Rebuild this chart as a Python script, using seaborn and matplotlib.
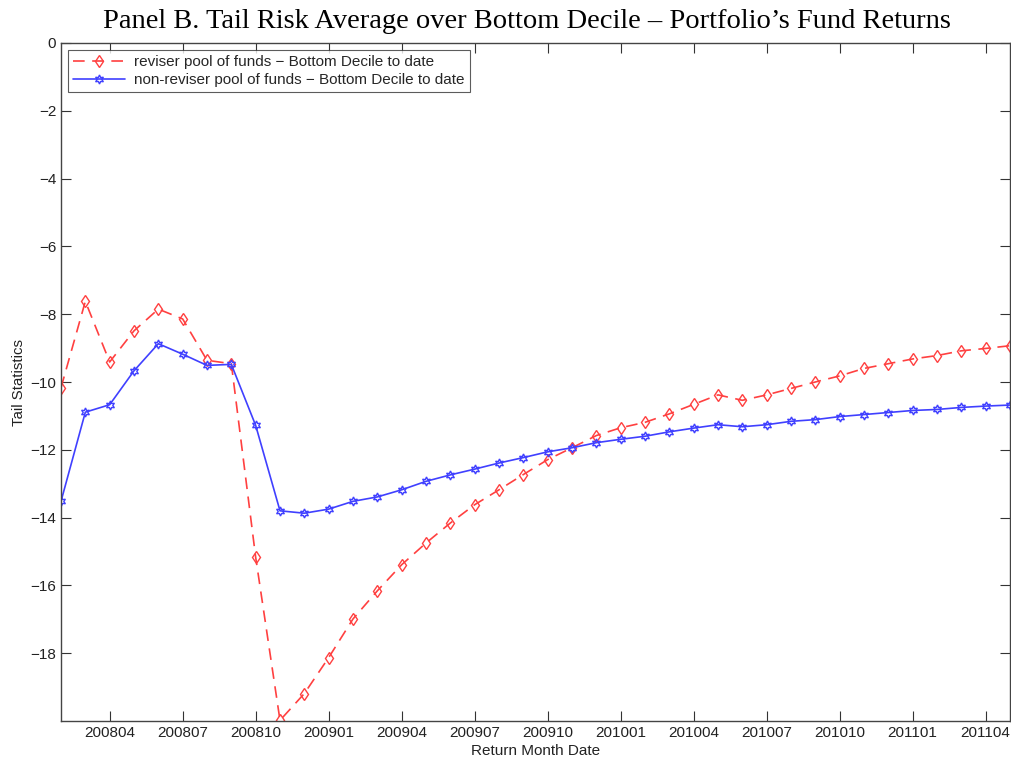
import matplotlib
matplotlib.use("Agg")
import matplotlib.pyplot as plt
import seaborn as sns
import pandas as pd

# monthly return dates, 200802 .. 201105
months = pd.period_range("2008-02", "2011-05", freq="M").strftime("%Y%m").tolist()

reviser = [-10.17, -7.62, -9.41, -8.49, -7.85, -8.14, -9.36, -9.46, -15.17, -19.98,
           -19.19, -18.13, -16.99, -16.16, -15.39, -14.75, -14.16, -13.62, -13.18, -12.73,
           -12.29, -11.94, -11.58, -11.35, -11.19, -10.94, -10.66, -10.38, -10.54, -10.38,
           -10.19, -10.00, -9.82, -9.60, -9.46, -9.32, -9.22, -9.08, -9.01, -8.93]

non_reviser = [-13.52, -10.89, -10.67, -9.67, -8.87, -9.18, -9.51, -9.48, -11.28, -13.80,
               -13.87, -13.75, -13.52, -13.39, -13.18, -12.93, -12.74, -12.57, -12.39, -12.23,
               -12.06, -11.94, -11.79, -11.69, -11.60, -11.47, -11.36, -11.26, -11.32, -11.26,
               -11.16, -11.11, -11.02, -10.96, -10.90, -10.84, -10.81, -10.75, -10.71, -10.68]

labels = ["reviser pool of funds \u2212 Bottom Decile to date",
          "non-reviser pool of funds \u2212 Bottom Decile to date"]

sns.set_style("white")
plt.rcParams["font.family"] = ["Liberation Sans", "DejaVu Sans"]

idx = list(range(len(months)))
fig = plt.figure(figsize=(10.12, 7.6), dpi=100)
ax = fig.add_axes([61 / 1012, 1 - 721 / 760, (1010 - 61) / 1012, (721 - 43) / 760])

sns.lineplot(x=idx, y=reviser, ax=ax, color="#ff4040", linestyle=(0, (7, 4.5)), linewidth=1.2,
             marker="d", markersize=6.5, markerfacecolor="none", markeredgecolor="#ff4040",
             markeredgewidth=1.0, label=labels[0])
sns.lineplot(x=idx, y=non_reviser, ax=ax, color="#4040ff", linewidth=1.2,
             marker=(6, 1, 0), markersize=6.5, markerfacecolor="none", markeredgecolor="#4040ff",
             markeredgewidth=1.0, label=labels[1])

ax.set_xlim(0, len(months) - 1)
ax.set_ylim(-20, 0)
tick_pos = idx[2::3]
ax.set_xticks(tick_pos)
ax.set_xticklabels([months[i] for i in tick_pos])
ax.set_yticks([0, -2, -4, -6, -8, -10, -12, -14, -16, -18])
ax.set_yticklabels(["0", "\u22122", "\u22124", "\u22126", "\u22128", "\u221210",
                    "\u221212", "\u221214", "\u221216", "\u221218"])

ax.tick_params(direction="in", length=7, width=0.8, color="#333333", labelsize=11,
               labelcolor="#222222", top=True, right=True, bottom=True, left=True)
for s in ax.spines.values():
    s.set_color("#444444")
    s.set_linewidth(1.0)

ax.set_xlabel("Return Month Date", fontsize=11, color="#222222", labelpad=3)
ax.set_ylabel("Tail Statistics", fontsize=10.8, color="#222222", labelpad=3)

leg = ax.legend(loc="upper left", fontsize=11, frameon=True, fancybox=False,
                handlelength=3.4, borderpad=0.35, labelspacing=0.25, handletextpad=0.6,
                bbox_to_anchor=(0.007, 0.99), borderaxespad=0)
leg.get_frame().set_edgecolor("#333333")
leg.get_frame().set_linewidth(0.8)

fig.text(527 / 1012, 1 - 21 / 760, "Panel B. Tail Risk Average over Bottom Decile \u2013 Portfolio\u2019s Fund Returns",
         ha="center", va="center", fontsize=20.5, family="Liberation Serif", color="black")

fig.savefig("out.png", dpi=100)
